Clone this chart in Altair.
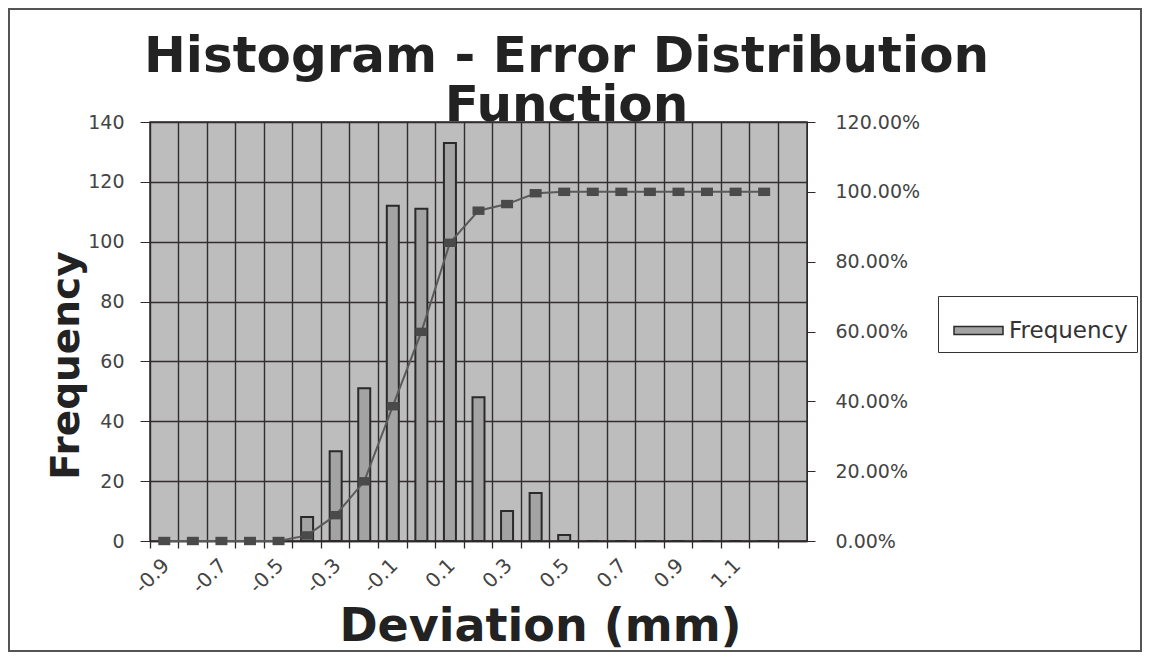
import altair as alt
import pandas as pd

# ---- data ----
categories = ["-0.9", "-0.8", "-0.7", "-0.6", "-0.5", "-0.4", "-0.3", "-0.2", "-0.1", "0",
              "0.1", "0.2", "0.3", "0.4", "0.5", "0.6", "0.7", "0.8", "0.9", "1", "1.1", "1.2", "More"]
frequency = [0, 0, 0, 0, 0, 8, 30, 51, 112, 111, 133, 48, 10, 16, 2, 0, 0, 0, 0, 0, 0, 0, None]
cumulative = [0.0, 0.0, 0.0, 0.0, 0.0, 0.016, 0.074, 0.171, 0.386, 0.599, 0.854, 0.946, 0.965,
              0.996, 1.0, 1.0, 1.0, 1.0, 1.0, 1.0, 1.0, 1.0, None]
shown_labels = ["-0.9", "-0.7", "-0.5", "-0.3", "-0.1", "0.1", "0.3", "0.5", "0.7", "0.9", "1.1"]
freq_ticks = [0, 20, 40, 60, 80, 100, 120, 140]
pct_ticks = [0.0, 0.2, 0.4, 0.6, 0.8, 1.0, 1.2]
series_name = ["Frequency"] * len(categories)

df = pd.DataFrame({"bin": categories, "frequency": frequency,
                   "cumulative": cumulative, "series": series_name})

W, H = 657, 419
NUM_FONT = "DejaVu Sans"
DARK = "#2e2a2a"

label_expr = f"indexof({shown_labels!r}, datum.label) >= 0 ? datum.label : ''"

x_enc = alt.X(
    "bin:N", sort=categories,
    scale=alt.Scale(paddingInner=0, paddingOuter=0),
    axis=alt.Axis(
        title="Deviation (mm)", bandPosition=0, labelOffset=2,
        labelAngle=-45, labelAlign="right", labelBaseline="middle",
        labelExpr=label_expr, labelOverlap=False, grid=True,
        gridColor="#332d2d", gridWidth=1.4, tickSize=7, tickColor=DARK,
        tickWidth=1.3, domainColor=DARK, domainWidth=1.3, labelPadding=14,
        labelFont=NUM_FONT, labelFontSize=20, labelColor="#444",
        titleFont=NUM_FONT, titleFontSize=46, titleFontWeight="bold",
        titleColor="#222", titleX=390, titleY=99, titleAlign="center",
        titleBaseline="alphabetic"),
)

bars = alt.Chart(df).mark_bar(
    width=alt.RelativeBandSize(0.42), stroke="#2a2a2a", strokeWidth=2
).encode(
    x=x_enc,
    y=alt.Y("frequency:Q", scale=alt.Scale(domain=[0, 140], nice=False),
            axis=alt.Axis(values=freq_ticks, grid=True, gridColor="#332d2d",
                          gridWidth=1.4, title="Frequency", titleAngle=270,
                          titleX=-72, titleY=243, titleAlign="center",
                          titleBaseline="alphabetic", titleFont=NUM_FONT,
                          titleFontSize=39, titleFontWeight="bold",
                          titleColor="#222", tickSize=10, tickColor=DARK,
                          domainColor=DARK, labelPadding=16, labelFont=NUM_FONT,
                          labelFontSize=19, labelColor="#444")),
    color=alt.Color("series:N",
                    scale=alt.Scale(domain=["Frequency"], range=["#a3a3a3"]),
                    legend=alt.Legend(title=None, orient="none", legendX=788,
                                      legendY=174,
                                      symbolType="M-1,-0.16L1,-0.16L1,0.16L-1,0.16Z",
                                      symbolSize=2401, symbolStrokeColor="#2a2a2a",
                                      symbolStrokeWidth=1.5, symbolOffset=6,
                                      labelFont=NUM_FONT, labelFontSize=23,
                                      labelColor="#333", labelOffset=5, padding=9,
                                      strokeColor="#333", fillColor="white")),
)

line = alt.Chart(df).mark_line(
    color="#5a5a5a", strokeWidth=2,
    point=alt.OverlayMarkDef(shape="M-1,-0.7L1,-0.7L1,0.7L-1,0.7Z", size=144,
                             filled=True, color="#4a4a4a"),
).encode(
    x=x_enc,
    y=alt.Y("cumulative:Q", scale=alt.Scale(domain=[0, 1.2], nice=False),
            axis=alt.Axis(orient="right", values=pct_ticks, format=".2%",
                          grid=False, title=None, tickSize=8, tickColor=DARK,
                          domainColor=DARK, labelPadding=20, labelFont=NUM_FONT,
                          labelFontSize=19, labelColor="#444")),
)

border = alt.Chart(pd.DataFrame({"k": [0]})).mark_rect(
    filled=False, stroke="#555", strokeWidth=2
).encode(x=alt.value(-141), x2=alt.value(991), y=alt.value(-113), y2=alt.value(529))

chart = alt.layer(bars, line, border).resolve_scale(y="independent").properties(
    width=W, height=H,
    autosize=alt.AutoSizeParams(type="none"),
    padding={"left": 142, "top": 114, "right": 335, "bottom": 111},
    background="white",
    title=alt.TitleParams(text=["Histogram - Error Distribution", "Function"],
                          font=NUM_FONT, fontSize=50, fontWeight="bold",
                          color="#222", anchor="middle", frame="group", dx=88,
                          offset=-123, lineHeight=49),
).configure_view(fill="#bdbdbd", stroke=DARK, strokeWidth=1.5)

chart.save("out.html", embed_options={"renderer": "svg", "actions": False})
